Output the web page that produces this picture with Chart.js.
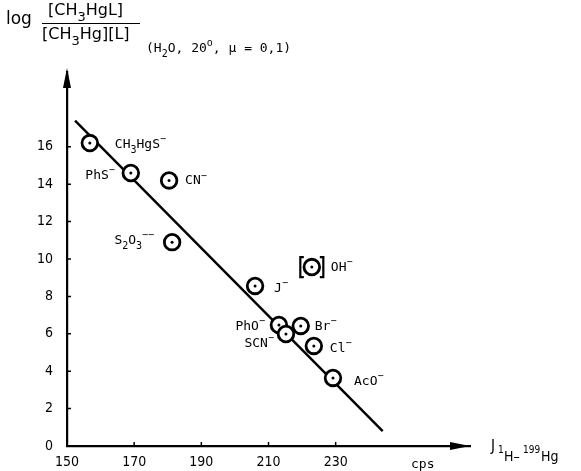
<!DOCTYPE html>
<html>
<head>
<meta charset="utf-8">
<script src="https://cdn.jsdelivr.net/npm/chart.js@4/dist/chart.umd.min.js"></script>
<style>
  body { margin: 0; background: #fff; }
</style>
</head>
<body>
<canvas id="chart" width="581" height="471"></canvas>
<script>
// ligand labels: _{..} = subscript, ^{..} = superscript
const ligands = ['CH_{3}HgS^{−}', 'PhS^{−}', 'CN^{−}', 'S_{2}O_{3}^{−−}', 'J^{−}', 'OH^{−}',
                 'PhO^{−}', 'SCN^{−}', 'Br^{−}', 'Cl^{−}', 'AcO^{−}'];
const couplingCps = [156.8, 169.0, 180.4, 181.3, 206.0, 222.9, 213.1, 215.2, 219.6, 223.5, 229.2];
const logK        = [16.2, 14.6, 14.2, 10.9, 8.56, 9.57, 6.47, 5.99, 6.42, 5.35, 3.64];
const fitLineX = [152.4, 244];
const fitLineY = [17.4, 0.8];
const xTicks = [150, 170, 190, 210, 230];
const yTicks = [0, 2, 4, 6, 8, 10, 12, 14, 16];

const MONO = '"DejaVu Sans Mono"';
const COND = '"DejaVu Sans Condensed"';

// draw text with _{sub} and ^{sup} markup
function drawRich(ctx, str, x, y, size, family, align) {
    const parts = [];
    const re = /([_^])\{([^}]*)\}|([^_^]+)/g;
    let m;
    while ((m = re.exec(str)) !== null) {
        if (m[3]) parts.push({ t: m[3], mode: 'n' });
        else parts.push({ t: m[2], mode: m[1] === '_' ? 'b' : 'p' });
    }
    const small = Math.round(size * 0.8);
    let total = 0;
    parts.forEach(p => {
        ctx.font = (p.mode === 'n' ? size : small) + 'px ' + family;
        p.w = ctx.measureText(p.t).width;
        total += p.w;
    });
    let cx = align === 'right' ? x - total : x;
    ctx.textAlign = 'left';
    ctx.textBaseline = 'alphabetic';
    parts.forEach(p => {
        ctx.font = (p.mode === 'n' ? size : small) + 'px ' + family;
        let dy = 0;
        if (p.mode === 'b') dy = size * 0.35;
        if (p.mode === 'p') dy = -size * 0.45;
        ctx.fillText(p.t, cx, y + dy);
        cx += p.w;
    });
    return total;
}

// label offsets from each point centre: [dx, dy, align]
const labelOffsets = [
    [25, 5, 'left'], [-16, 6, 'right'], [16, 4, 'left'], [-18, 2, 'right'],
    [19, 6, 'left'], [19, 4, 'left'], [-14, 5, 'right'], [-12, 13, 'right'],
    [14, 4, 'left'], [16, 6, 'left'], [21, 7, 'left']
];

const decorations = {
    id: 'decorations',
    afterDatasetsDraw(chart) {
        const ctx = chart.ctx;
        const xs = chart.scales.x, ys = chart.scales.y;
        ctx.save();
        ctx.fillStyle = '#000';
        ctx.strokeStyle = '#000';

        // point labels
        ligands.forEach((name, i) => {
            const px = xs.getPixelForValue(couplingCps[i]);
            const py = ys.getPixelForValue(logK[i]);
            const [dx, dy, align] = labelOffsets[i];
            drawRich(ctx, name, px + dx, py + dy, 13, MONO, align);
        });

        // brackets around OH-
        const ohX = xs.getPixelForValue(couplingCps[5]);
        const ohY = ys.getPixelForValue(logK[5]);
        ctx.lineWidth = 2.2;
        ctx.beginPath();
        ctx.moveTo(ohX - 8, ohY - 10); ctx.lineTo(ohX - 11.5, ohY - 10);
        ctx.lineTo(ohX - 11.5, ohY + 10); ctx.lineTo(ohX - 8, ohY + 10);
        ctx.moveTo(ohX + 8, ohY - 10); ctx.lineTo(ohX + 11.5, ohY - 10);
        ctx.lineTo(ohX + 11.5, ohY + 10); ctx.lineTo(ohX + 8, ohY + 10);
        ctx.stroke();
        ctx.restore();
    },
    afterDraw(chart) {
        const ctx = chart.ctx;
        const xs = chart.scales.x, ys = chart.scales.y;
        const area = chart.chartArea;
        ctx.save();
        ctx.fillStyle = '#000';
        ctx.strokeStyle = '#000';

        // inward tick marks
        ctx.lineWidth = 1.5;
        ctx.beginPath();
        yTicks.forEach(v => {
            if (v === 0) return;
            const y = ys.getPixelForValue(v);
            ctx.moveTo(area.left, y); ctx.lineTo(area.left + 4, y);
        });
        xTicks.forEach(v => {
            if (v === 150) return;
            const x = xs.getPixelForValue(v);
            ctx.moveTo(x, area.bottom); ctx.lineTo(x, area.bottom - 4);
        });
        ctx.stroke();

        // arrow heads
        ctx.beginPath();
        ctx.moveTo(area.left, area.top - 4);
        ctx.lineTo(area.left - 4, area.top + 16);
        ctx.lineTo(area.left + 4, area.top + 16);
        ctx.closePath();
        ctx.fill();
        ctx.beginPath();
        ctx.moveTo(area.right, area.bottom);
        ctx.lineTo(area.right - 20, area.bottom - 4);
        ctx.lineTo(area.right - 20, area.bottom + 4);
        ctx.closePath();
        ctx.fill();

        // x axis unit and quantity
        drawRich(ctx, 'cps', 411, 468, 13, MONO, 'left');
        ctx.font = '15px ' + COND;
        ctx.fillText('J', 491, 451);
        ctx.font = '10px ' + COND;
        ctx.fillText('1', 498, 453);
        ctx.font = '14px ' + COND;
        ctx.fillText('H–', 504, 461);
        ctx.font = '10px ' + COND;
        ctx.fillText('199', 523, 453);
        ctx.font = '14px ' + COND;
        ctx.fillText('Hg', 541, 461);

        // y axis quantity: log [CH3HgL] / ([CH3Hg][L])
        const F = '"DejaVu Sans"';
        ctx.font = '17px ' + F;
        ctx.fillText('log', 6, 24);
        drawRich(ctx, '[CH_{3}HgL]', 48, 15, 16, F, 'left');
        ctx.lineWidth = 1.2;
        ctx.beginPath();
        ctx.moveTo(42, 23.5); ctx.lineTo(140, 23.5);
        ctx.stroke();
        drawRich(ctx, '[CH_{3}Hg][L]', 42, 39, 16, F, 'left');
        drawRich(ctx, '(H_{2}O, 20^{o}, μ = 0,1)', 146, 52, 13, MONO, 'left');
        ctx.restore();
    }
};

const circleData = couplingCps.map((x, i) => ({ x, y: logK[i] }));

new Chart(document.getElementById('chart'), {
    type: 'scatter',
    data: {
        datasets: [
            {
                data: circleData,
                pointRadius: 1.5,
                pointBackgroundColor: '#000',
                pointBorderWidth: 0
            },
            {
                data: circleData,
                pointRadius: 7.8,
                pointBorderWidth: 2.8,
                pointBorderColor: '#000',
                pointBackgroundColor: '#fff'
            },
            {
                type: 'line',
                data: fitLineX.map((x, i) => ({ x, y: fitLineY[i] })),
                borderColor: '#000',
                borderWidth: 2.4,
                pointRadius: 0,
                fill: false
            }
        ]
    },
    options: {
        responsive: false,
        animation: false,
        devicePixelRatio: 1,
        layout: { padding: { left: 0, top: 72, right: 111, bottom: 0 } },
        plugins: { legend: { display: false }, tooltip: { enabled: false } },
        scales: {
            x: {
                type: 'linear',
                min: 150,
                max: 270,
                afterBuildTicks: s => { s.ticks = xTicks.map(v => ({ value: v })); },
                afterFit: s => { s.height = 25; },
                grid: { display: false, drawTicks: false },
                border: { display: true, color: '#000', width: 2.2 },
                ticks: { color: '#000', padding: 8, font: { family: 'DejaVu Sans Condensed', size: 14 } }
            },
            y: {
                type: 'linear',
                min: 0,
                max: 20,
                afterBuildTicks: s => { s.ticks = yTicks.map(v => ({ value: v })); },
                afterFit: s => { s.width = 67; },
                grid: { display: false, drawTicks: false },
                border: { display: true, color: '#000', width: 2.2 },
                ticks: { color: '#000', padding: 14, font: { family: 'DejaVu Sans Condensed', size: 14 } }
            }
        }
    },
    plugins: [decorations]
});
</script>
</body>
</html>
